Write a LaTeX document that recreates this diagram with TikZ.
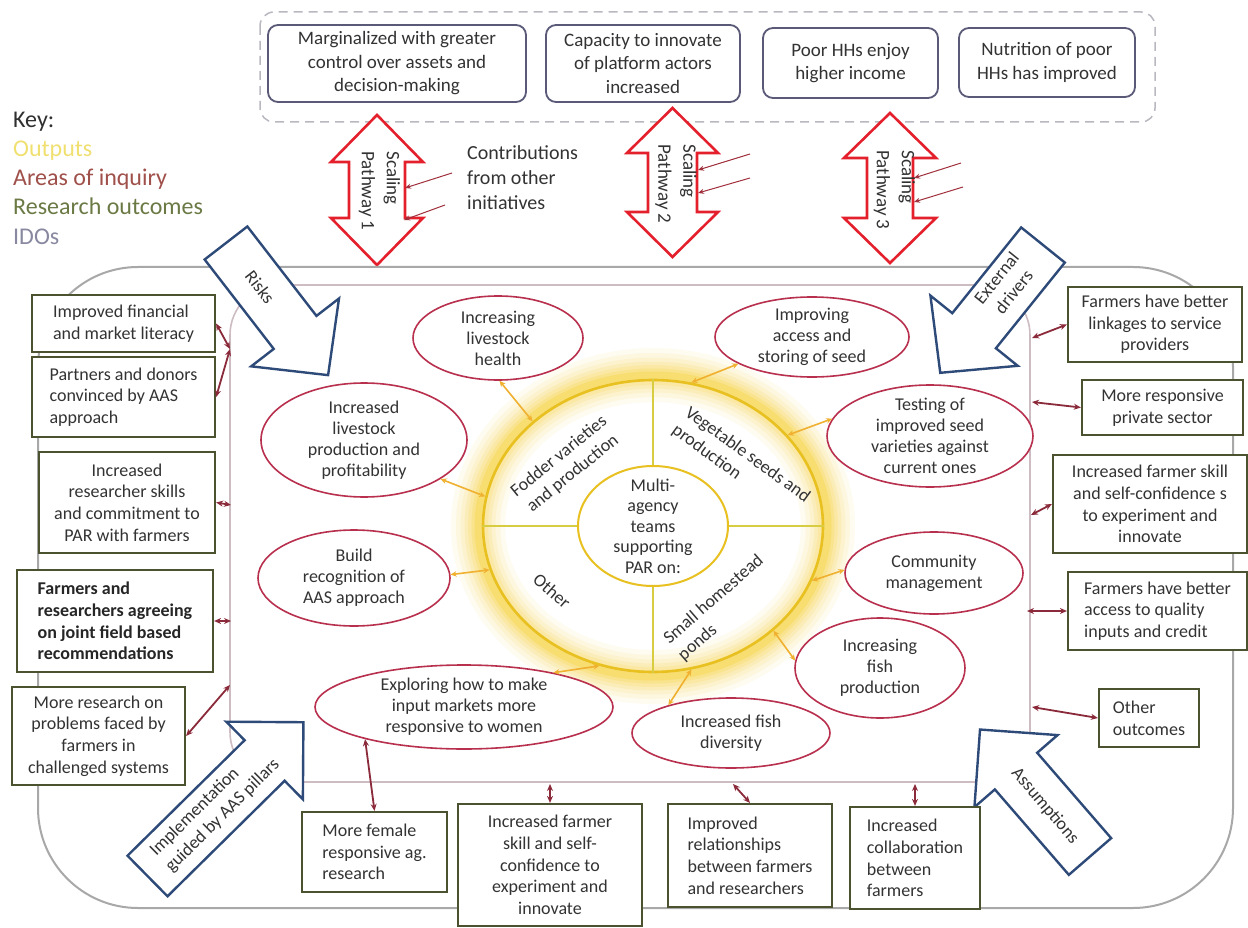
\documentclass[tikz,border=0pt]{standalone}
\usepackage{fontspec}
\setmainfont{Carlito}
\usetikzlibrary{arrows.meta,shapes.geometric}

\definecolor{idoline}{HTML}{5A5A78}
\definecolor{dashgray}{HTML}{B8B8C0}
\definecolor{scalered}{HTML}{E3202C}
\definecolor{thinred}{HTML}{A0303C}
\definecolor{navyone}{HTML}{2E4A78}
\definecolor{outerg}{HTML}{A8A8A8}
\definecolor{innerg}{HTML}{CDBDC2}
\definecolor{ellred}{HTML}{B8304E}
\definecolor{boxol}{HTML}{4A5230}
\definecolor{txt}{HTML}{333333}
\definecolor{glowc}{HTML}{F7CF2E}
\definecolor{ringc}{HTML}{E8C020}
\definecolor{quadl}{HTML}{D8CC40}
\definecolor{yarr}{HTML}{F0B030}
\definecolor{darr}{HTML}{8B2A3A}
\definecolor{keyk}{HTML}{303030}
\definecolor{keyout}{HTML}{F0E070}
\definecolor{keyarea}{HTML}{A0504A}
\definecolor{keyres}{HTML}{6B7A45}
\definecolor{keyido}{HTML}{8888A0}

% blue block arrow: tail-mid x, y, angle, length, shaft width, head width, head length
\newcommand{\bluearrowshape}[7]{%
\begin{scope}[shift={(#1,#2)},rotate=#3]
\draw[barrow] (0,{-#5/2}) -- ({#4-#7},{-#5/2}) -- ({#4-#7},{-#6/2}) -- (#4,0) -- ({#4-#7},{#6/2}) -- ({#4-#7},{#5/2}) -- (0,{#5/2}) -- cycle;
\end{scope}}
% vertical double arrow: cx, top, bottom, head half width, shaft half width, head length
\newcommand{\scalearrowshape}[6]{%
\draw[sarrow] (#1,#2) -- ({#1+#4},{#2+#6}) -- ({#1+#5},{#2+#6}) -- ({#1+#5},{#3-#6}) -- ({#1+#4},{#3-#6}) -- (#1,#3) -- ({#1-#4},{#3-#6}) -- ({#1-#5},{#3-#6}) -- ({#1-#5},{#2+#6}) -- ({#1-#4},{#2+#6}) -- cycle;}

\begin{document}
\begin{tikzpicture}[x=1pt,y=-1pt,
  every node/.style={text=txt},
  ido/.style={draw=idoline, line width=1.8pt, rounded corners=10pt, fill=white, align=center, inner sep=0pt, font=\fontsize{19}{23.5}\selectfont},
  rbox/.style={draw=boxol, line width=2.2pt, fill=white, inner sep=0pt, font=\fontsize{18}{21.7}\selectfont},
  ell/.style={ellipse, draw=ellred, line width=1.6pt, fill=white, inner sep=-12pt, align=center, font=\fontsize{18}{21}\selectfont},
  quad/.style={font=\fontsize{18}{22}\selectfont, inner sep=0pt},
  yconn/.style={draw=yarr, line width=1.6pt, {Stealth[length=6pt,width=5.5pt]}-{Stealth[length=6pt,width=5.5pt]}},
  rconn/.style={draw=darr, line width=1.8pt, {Stealth[length=7pt,width=6pt]}-{Stealth[length=7pt,width=6pt]}},
  tarr/.style={draw=thinred, line width=1pt, -{Stealth[length=6pt,width=5pt]}},
  barrow/.style={draw=navyone, line width=2.4pt, fill=white, line join=miter},
  sarrow/.style={draw=scalered, line width=2.6pt, fill=white, line join=miter},
  btext/.style={font=\fontsize{18}{22}\selectfont, inner sep=0pt, align=center},
]
\useasboundingbox[fill=white] (0,0) rectangle (1248,928);

% ---------- IDO area ----------
\draw[dashgray, line width=1.5pt, dash pattern=on 9pt off 6pt, rounded corners=14pt] (260,12) rectangle (1155,122);
\node[ido, minimum width=258pt, minimum height=77pt] (ido1) at (397,63.5) {Marginalized with greater\\control over assets and\\decision-making};
\node[ido, minimum width=194pt, minimum height=77pt] (ido2) at (643,63.5) {Capacity to innovate\\of platform actors\\increased};
\node[ido, minimum width=175pt, minimum height=70pt] (ido3) at (850.5,63) {Poor HHs enjoy\\higher income};
\node[ido, minimum width=176pt, minimum height=69pt] (ido4) at (1047,62.5) {Nutrition of poor\\HHs has improved};

% ---------- Key ----------
\node[anchor=west, align=left, inner sep=0pt, font=\fontsize{24}{29.3}\selectfont] (key) at (13,178) {\textcolor{keyk}{Key:}\\\textcolor{keyout}{Outputs}\\\textcolor{keyarea}{Areas of inquiry}\\\textcolor{keyres}{Research outcomes}\\\textcolor{keyido}{IDOs}};

% ---------- scaling pathways ----------
\scalearrowshape{377}{115}{265}{46}{28}{47}
\scalearrowshape{672.5}{108}{257}{45.5}{24.5}{45}
\scalearrowshape{890}{113}{263}{46}{23}{45}
\node[rotate=-90, align=left, inner sep=0pt, font=\fontsize{19}{25}\selectfont] (sp1) at (379.5,191) {Scaling\\Pathway 1};
\node[rotate=-90, align=left, inner sep=0pt, font=\fontsize{19}{25}\selectfont] (sp2) at (676,184) {Scaling\\Pathway 2};
\node[rotate=-90, align=left, inner sep=0pt, font=\fontsize{19}{25}\selectfont] (sp3) at (894.5,190) {Scaling\\Pathway 3};
\node[anchor=west, align=left, inner sep=0pt, font=\fontsize{20}{25}\selectfont] (contrib) at (467,178) {Contributions\\from other\\initiatives};

\coordinate (c1a) at (452,173); \coordinate (c1b) at (405,188);
\coordinate (c2a) at (445,205); \coordinate (c2b) at (404,220);
\coordinate (c3a) at (750,154); \coordinate (c3b) at (698,170);
\coordinate (c4a) at (750,178); \coordinate (c4b) at (698,193);
\coordinate (c5a) at (961,163); \coordinate (c5b) at (914,178);
\coordinate (c6a) at (963,187); \coordinate (c6b) at (914,202);
\draw[tarr] (c1a) -- (c1b);
\draw[tarr] (c2a) -- (c2b);
\draw[tarr] (c3a) -- (c3b);
\draw[tarr] (c4a) -- (c4b);
\draw[tarr] (c5a) -- (c5b);
\draw[tarr] (c6a) -- (c6b);

% ---------- frames ----------
\draw[outerg, line width=2pt, rounded corners=100pt] (38,267) rectangle (1233,908);
\draw[innerg, line width=1.6pt, rounded corners=50pt] (230,285) rectangle (1030,782);

% ---------- blue arrows ----------
\bluearrowshape{226}{243}{-52.3}{167}{54}{111}{54}
\bluearrowshape{1043}{245}{-128.8}{164}{56}{112}{54}
\bluearrowshape{147.5}{876}{44.6}{219}{57}{109}{54.5}
\bluearrowshape{1090}{856.5}{130.9}{168}{56}{110}{55}
\node[btext, rotate=-52.3] (trisks) at (260,287) {Risks};
\node[btext, rotate=51.2] (text) at (1005,285) {External\\drivers};
\node[btext, rotate=44.6, align=left] (timp) at (215,808) {Implementation\\guided by AAS pillars};
\node[btext, rotate=-49.5] (tass) at (1045,806) {Assumptions};

% ---------- central circle ----------
\foreach \w/\o in {54/0.07,44/0.08,35/0.10,27/0.12,20/0.15,13/0.2,7/0.28}
  \draw[glowc, opacity=\o, line width=\w pt] (653,526) ellipse [x radius=175pt, y radius=151pt];
\node[ellipse, draw=ringc, line width=2.6pt, minimum width=340pt, minimum height=292pt, inner sep=0pt] (circ) at (653,526) {};
\node[ellipse, draw=ringc, line width=2pt, minimum width=150pt, minimum height=120pt, inner sep=-14pt, fill=white, align=center, font=\fontsize{18}{20.5}\selectfont] (mid) at (653,526) {Multi-\\agency\\teams\\supporting\\PAR on:};
\draw[quadl, line width=1.3pt] (mid.north) -- (circ.north);
\draw[quadl, line width=1.3pt] (mid.south) -- (circ.south);
\draw[quadl, line width=1.3pt] (mid.west) -- (circ.west);
\draw[quadl, line width=1.3pt] (mid.east) -- (circ.east);
\node[quad, rotate=39, align=center] (qf) at (566,465) {Fodder varieties\\and production};
\node[quad, rotate=-36, align=left] (qv) at (741,464) {Vegetable seeds and\\production};
\node[quad, rotate=-41] (qo) at (552,591) {Other};
\node[quad, rotate=41, align=left] (qs) at (721,608) {Small homestead\\ponds};

% ---------- areas of inquiry ----------
\node[ell, minimum width=170pt, minimum height=84pt] (e1) at (498,338) {Increasing\\livestock\\health};
\node[ell, minimum width=194pt, minimum height=80pt] (e2) at (812,337) {Improving\\access and\\storing of seed};
\node[ell, minimum width=206pt, minimum height=114pt] (e3) at (364,440) {Increased\\livestock\\production and\\profitability};
\node[ell, minimum width=192pt, minimum height=96pt] (e4) at (354,578) {Build\\recognition of\\AAS approach};
\node[ell, minimum width=206pt, minimum height=102pt] (e5) at (930,436) {Testing of\\improved seed\\varieties against\\current ones};
\node[ell, minimum width=178pt, minimum height=82pt] (e6) at (934,573) {Community\\management};
\node[ell, minimum width=170pt, minimum height=100pt] (e7) at (880,668) {Increasing\\fish\\production};
\node[ell, minimum width=198pt, minimum height=70pt] (e8) at (731,733) {Increased fish\\diversity};
\node[ell, minimum width=298pt, minimum height=84pt] (e9) at (464,707) {Exploring how to make\\input markets more\\responsive to women};

\draw[yconn] (circ.139) -- (e1.-88);
\draw[yconn] (circ.170) -- (e3.-27);
\draw[yconn] (circ.75) -- (e2.200);
\draw[yconn] (circ.34) -- (e5.170);
\draw[yconn] (circ.195) -- (e4.2);
\draw[yconn] (circ.-19) -- (e6.178);
\draw[yconn] (circ.-41) -- (e7.175);
\draw[yconn] (circ.-75) -- (e8.156);
\draw[yconn] (circ.-111) -- (e9.21);

% ---------- research outcomes ----------
\node[rbox, minimum width=183pt, minimum height=57pt, align=left] (L1) at (123.5,323.5) {Improved financial\\and market literacy};
\node[rbox, minimum width=183pt, minimum height=80pt, align=left] (L2) at (123.5,397) {Partners and donors\\convinced by AAS\\approach};
\node[rbox, minimum width=176pt, minimum height=101pt, align=center] (L3) at (127,502.5) {Increased\\researcher skills\\and commitment to\\PAR with farmers};
\node[rbox, minimum width=196pt, minimum height=102pt, align=left, text=black!85, font=\fontsize{18}{21.7}\selectfont\bfseries] (L4) at (115,621) {Farmers and\\researchers agreeing\\on joint field based\\recommendations};
\node[rbox, minimum width=173pt, minimum height=98pt, align=center] (L5) at (98.5,736) {More research on\\problems faced by\\farmers in\\challenged systems};

\node[rbox, minimum width=174pt, minimum height=75pt, align=center] (R1) at (1155,324.5) {Farmers have better\\linkages to service\\providers};
\node[rbox, minimum width=161pt, minimum height=55pt, align=center] (R2) at (1162.5,407.5) {More responsive\\private sector};
\node[rbox, minimum width=194pt, minimum height=98pt, align=center] (R3) at (1150,504) {Increased farmer skill\\and self-confidence s\\to experiment and\\innovate};
\node[rbox, minimum width=179pt, minimum height=78pt, align=left] (R4) at (1157.5,611) {Farmers have better\\access to quality\\inputs and credit};
\node[rbox, minimum width=100pt, minimum height=58pt, align=left] (R5) at (1149,718) {Other\\outcomes};

\node[rbox, minimum width=145pt, minimum height=80pt, align=left] (B1) at (374.5,852) {More female\\responsive ag.\\research};
\node[rbox, minimum width=184pt, minimum height=122pt, align=center] (B2) at (550,865) {Increased farmer\\skill and self-\\confidence to\\experiment and\\innovate};
\node[rbox, minimum width=164pt, minimum height=103pt, align=left] (B3) at (750,855.5) {Improved\\relationships\\between farmers\\and researchers};
\node[rbox, minimum width=130pt, minimum height=102pt, align=left] (B4) at (915,858) {Increased\\collaboration\\between\\farmers};

% ---------- red connectors ----------
\coordinate (pL12) at (230,349);
\coordinate (pL3) at (231,505);
\coordinate (pL4) at (231,621);
\coordinate (pL5) at (230,685);
\coordinate (pR1) at (1032,338);
\coordinate (pR2) at (1032,402);
\coordinate (pR3) at (1031,515);
\coordinate (pR4) at (1027,611);
\coordinate (pR5) at (1032,707);
\coordinate (pB2) at (550,784);
\coordinate (pB3) at (733,784);
\coordinate (pB4) at (915,784);
\draw[rconn] (pL12) -- (L1.east);
\draw[rconn] (pL12) -- (L2.east);
\draw[rconn] (L3.east) -- (pL3);
\draw[rconn] (L4.east) -- (pL4);
\draw[rconn] (L5.east) -- (pL5);
\draw[rconn] (pR1) -- (R1.west);
\draw[rconn] (pR2) -- (R2.west);
\draw[rconn] (pR3) -- (R3.west);
\draw[rconn] (pR4) -- (R4.west);
\draw[rconn] (pR5) -- (R5.west);
\draw[rconn] (e9.198) -- (B1.north);
\draw[rconn] (pB2) -- (B2.north);
\draw[rconn] (pB3) -- (B3.north);
\draw[rconn] (pB4) -- (B4.north);
\end{tikzpicture}
\end{document}
